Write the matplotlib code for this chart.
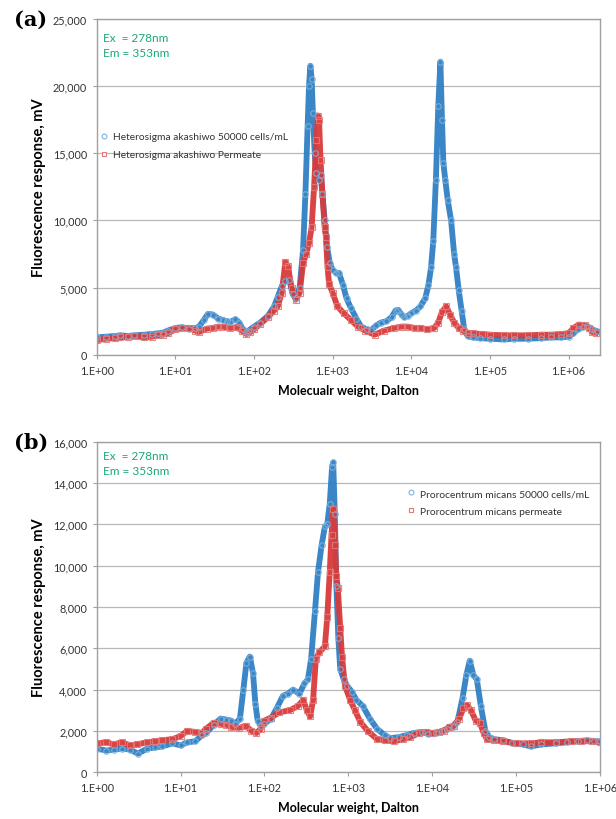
import matplotlib.pyplot as plt
import numpy as np
from matplotlib.ticker import FixedLocator, FuncFormatter

# Panel (a): Heterosigma akashiwo
mw_a_cells = [1, 1.3, 1.7, 2, 2.5, 3, 4, 5, 6, 7, 8, 10, 12, 15, 18, 20, 23, 26, 30, 35,
              40, 45, 50, 58, 65, 72, 78, 85, 100, 120, 150, 180, 200, 225, 250, 280, 310,
              340, 380, 420, 450, 480, 500, 520, 540, 560, 590, 620, 660, 700, 740, 790,
              850, 920, 1000, 1100, 1200, 1350, 1500, 1700, 2000, 2300, 2700, 3100, 3600,
              4100, 4800, 5600, 6300, 6800, 7500, 8100, 9000, 10000, 11500, 13000, 15000,
              16500, 17800, 19000, 20500, 22000, 23400, 24500, 25500, 27000, 29000, 32000,
              35000, 37000, 40000, 43500, 47000, 52000, 60000, 75000, 100000, 150000,
              200000, 300000, 450000, 600000, 800000, 1000000, 1150000, 1300000, 1500000,
              1700000, 2000000, 2300000]
resp_a_cells = [1300, 1350, 1400, 1450, 1400, 1450, 1500, 1550, 1600, 1650, 1800, 2000, 2050,
                1950, 2000, 2100, 2600, 3050, 3000, 2700, 2600, 2500, 2450, 2650, 2400, 1900,
                1700, 1800, 2100, 2400, 2900, 3600, 4300, 5100, 5500, 5600, 4500, 4200, 5000,
                7800, 12000, 17000, 20000, 21500, 20500, 18000, 15000, 13500, 13000, 13400,
                12000, 10000, 8000, 6800, 6300, 6100, 6100, 5200, 4200, 3500, 2700, 2100, 1900,
                1850, 2200, 2400, 2500, 2800, 3300, 3350, 3000, 2800, 2900, 3100, 3300, 3600,
                4200, 5200, 6500, 8500, 13000, 18500, 21800, 17500, 14300, 13000, 11500, 10000,
                7500, 6500, 4800, 3300, 1900, 1400, 1300, 1250, 1200, 1150, 1200, 1200, 1250,
                1300, 1300, 1350, 1600, 1900, 2050, 2150, 1900, 1750]

mw_a_perm = [1, 1.3, 1.7, 2, 2.5, 3, 4, 5, 6, 7, 8, 10, 12, 15, 18, 20, 25, 30, 35, 40, 50,
             60, 70, 80, 90, 100, 120, 150, 180, 200, 225, 250, 270, 300, 340, 380, 420, 460,
             500, 540, 580, 620, 650, 670, 700, 740, 790, 820, 860, 900, 1000, 1150, 1380,
             1700, 2100, 2600, 3400, 4500, 6000, 7400, 9000, 11000, 13000, 16000, 19500,
             22000, 24500, 27800, 31000, 35000, 40000, 45000, 52000, 60000, 80000, 100000,
             150000, 200000, 300000, 450000, 600000, 800000, 1000000, 1150000, 1350000,
             1600000, 1800000, 2000000, 2200000]
resp_a_perm = [1100, 1200, 1250, 1300, 1350, 1400, 1300, 1350, 1450, 1500, 1600, 1900, 2000,
               2000, 1800, 1700, 1950, 2000, 2100, 2100, 2000, 2050, 1800, 1550, 1700, 1900,
               2300, 2800, 3300, 3600, 4600, 6900, 6600, 5000, 4100, 4600, 6800, 7500, 8300,
               9500, 12500, 16000, 17800, 17500, 14500, 12000, 9500, 8800, 6500, 5300, 4600,
               3600, 3100, 2600, 2100, 1800, 1500, 1800, 2000, 2100, 2100, 2000, 2000, 1900,
               2000, 2400, 3200, 3600, 3000, 2400, 2000, 1800, 1650, 1600, 1550, 1500, 1450,
               1450, 1450, 1500, 1500, 1550, 1600, 2000, 2250, 2200, 2000, 1700, 1650]

# Panel (b): Prorocentrum micans
mw_b_cells = [1, 1.3, 1.6, 2, 2.5, 3.1, 4, 5, 6, 8, 10, 12, 15, 18, 20, 25, 30, 35, 40, 45,
              51, 56, 61, 67, 73, 78, 83, 90, 100, 120, 140, 166, 190, 220, 260, 300, 330,
              360, 400, 435, 480, 525, 560, 600, 640, 660, 690, 720, 760, 800, 880, 960,
              1100, 1250, 1490, 1800, 2200, 2700, 3150, 4000, 5000, 6000, 7500, 9000, 11000,
              13000, 15000, 17500, 20000, 23000, 25500, 28000, 31000, 34000, 38000, 43000,
              48000, 55000, 70000, 90000, 120000, 150000, 200000, 300000, 400000, 550000,
              700000, 850000, 1000000]
resp_b_cells = [1150, 1050, 1100, 1150, 1100, 900, 1150, 1200, 1250, 1400, 1300, 1450, 1500,
                1800, 1900, 2300, 2600, 2550, 2500, 2350, 2600, 4000, 5300, 5600, 4800, 3300,
                2500, 2250, 2350, 2600, 3100, 3700, 3800, 4000, 3800, 4300, 4500, 5500, 7800,
                9700, 11000, 11900, 12000, 13000, 14800, 15000, 12500, 9000, 6500, 5000, 4500,
                4200, 3900, 3500, 3200, 2600, 2100, 1800, 1650, 1700, 1800, 1900, 1950, 1850,
                1900, 2000, 2100, 2200, 2450, 3600, 4700, 5400, 4700, 4500, 3200, 2000, 1700,
                1600, 1550, 1400, 1350, 1250, 1350, 1400, 1450, 1500, 1550, 1500, 1500]

mw_b_perm = [1, 1.3, 1.6, 2, 2.5, 3, 4, 5, 6, 8, 10, 12, 15, 18, 20, 25, 30, 35, 40, 50, 60,
             70, 80, 90, 100, 120, 150, 200, 250, 290, 320, 350, 380, 410, 450, 525, 560,
             600, 630, 660, 690, 720, 750, 800, 840, 910, 1050, 1200, 1380, 1700, 2200, 2700,
             3500, 4500, 5500, 7000, 8500, 10000, 12000, 14000, 16000, 18000, 21000, 23500,
             26000, 29000, 33000, 37000, 41000, 45000, 55000, 70000, 100000, 150000, 200000,
             300000, 450000, 600000, 800000, 1000000]
resp_b_perm = [1400, 1450, 1350, 1450, 1300, 1350, 1450, 1500, 1550, 1600, 1750, 2000, 1950,
               1900, 2100, 2400, 2350, 2300, 2200, 2150, 2250, 2000, 1900, 2100, 2500, 2650,
               2900, 3000, 3200, 3500, 3000, 2700, 3500, 5500, 5800, 6100, 7500, 9700, 11500,
               12750, 11000, 9500, 8900, 7000, 5600, 4200, 3500, 3000, 2450, 2000, 1600, 1550,
               1500, 1600, 1700, 1900, 1950, 1900, 1950, 2000, 2200, 2250, 2600, 3100, 3250,
               3000, 2500, 2400, 1900, 1600, 1550, 1500, 1400, 1400, 1450, 1450, 1500, 1500,
               1500, 1450]

BLUE = '#2f80c4'
BLUE_EDGE = '#7fb3de'
RED = '#d93a3a'
RED_EDGE = '#e07a7a'
GREEN = '#1aa874'
FONT = 'Lato'


def decade_label(v, pos):
    return '1.E+%02d' % int(round(np.log10(v)))


def draw_panel(ax, cells, perm, labels, xmax, ymax, ystep, xlabel, tag, leg_anchor, note_y):
    for (mw, resp), lab, col, edge, mk in zip((cells, perm), labels, (BLUE, RED),
                                             (BLUE_EDGE, RED_EDGE), ('o', 's')):
        ax.plot(mw, resp, '-', color=col, lw=4.2, alpha=0.95, zorder=2,
                solid_joinstyle='round')
        ax.plot(mw, resp, mk, mfc='none', mec=edge, mew=0.8, ms=4, alpha=0.9, zorder=3)
        ax.plot([], [], mk, mfc='white', mec=edge, mew=0.8, ms=3.5, label=lab)

    ax.set_xscale('log')
    ax.set_xlim(1, xmax)
    ax.set_ylim(0, ymax)
    ax.xaxis.set_major_locator(FixedLocator([10.0 ** k for k in range(7)]))
    ax.xaxis.set_minor_locator(FixedLocator([]))
    ax.xaxis.set_major_formatter(FuncFormatter(decade_label))
    ax.set_yticks(np.arange(0, ymax + 1, ystep))
    ax.yaxis.set_major_formatter(FuncFormatter(lambda v, p: f'{int(v):,}'))
    ax.grid(axis='y', color='#b8b8b8', lw=0.9)
    ax.set_axisbelow(True)
    for s in ax.spines.values():
        s.set_color('#a0a0a0')
        s.set_linewidth(1.0)
    ax.tick_params(axis='both', length=3, color='#a0a0a0', labelsize=7.8,
                   labelcolor='#333333', pad=4)
    for t in ax.get_xticklabels() + ax.get_yticklabels():
        t.set_family(FONT)

    ax.set_ylabel('Fluorescence response, mV', fontsize=10.5, fontweight='bold',
                  family=FONT, labelpad=5)
    ax.set_xlabel(xlabel, fontsize=9, fontweight='bold', family=FONT, labelpad=6)

    ax.text(0.012, note_y, 'Ex  = 278nm\nEm = 353nm', transform=ax.transAxes,
            color=GREEN, fontsize=8.5, family=FONT, va='top', linespacing=1.45)
    ax.text(-0.165, 1.0, tag, transform=ax.transAxes, fontsize=15, fontweight='bold',
            family='DejaVu Serif', va='center', ha='left')

    leg = ax.legend(loc='upper left', bbox_to_anchor=leg_anchor, frameon=False,
                    fontsize=7.4, handlelength=0.6, handletextpad=0.6, labelspacing=0.85,
                    borderaxespad=0)
    for t in leg.get_texts():
        t.set_family(FONT)
        t.set_color('#333333')


fig = plt.figure(figsize=(6.16, 8.2), dpi=100)
ax_a = fig.add_axes([0.157, 0.566, 0.817, 0.410])
ax_b = fig.add_axes([0.157, 0.057, 0.817, 0.403])

draw_panel(ax_a, (mw_a_cells, resp_a_cells), (mw_a_perm, resp_a_perm),
           ['Heterosigma akashiwo 50000 cells/mL', 'Heterosigma akashiwo Permeate'],
           2.5e6, 25000, 5000, 'Molecualr weight, Dalton', '(a)', (0.0, 0.675), 0.96)
draw_panel(ax_b, (mw_b_cells, resp_b_cells), (mw_b_perm, resp_b_perm),
           ['Prorocentrum micans 50000 cells/mL', 'Prorocentrum micans permeate'],
           1e6, 16000, 2000, 'Molecular weight, Dalton', '(b)', (0.61, 0.87), 0.975)

fig.savefig('out.png', dpi=100)
